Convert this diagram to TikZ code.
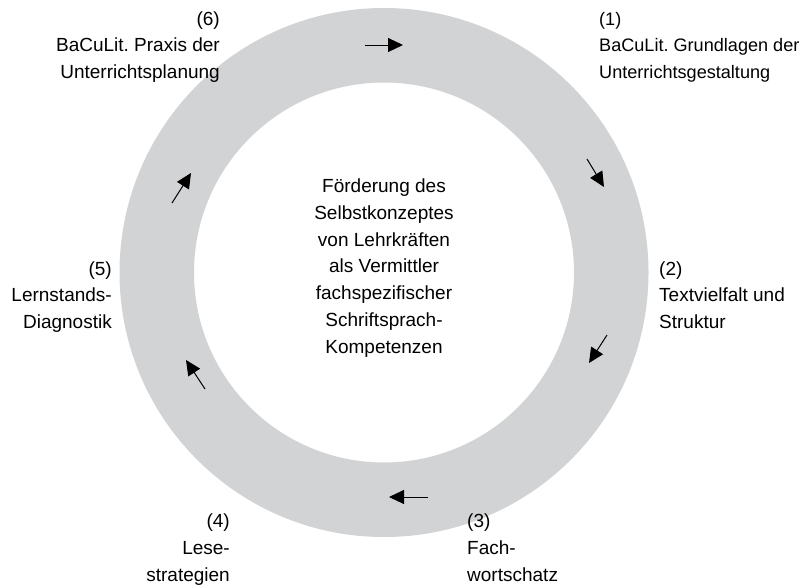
\documentclass[tikz,border=0pt]{standalone}
\usepackage{fontspec}
\setmainfont{Liberation Sans}
\usetikzlibrary{arrows.meta}
\definecolor{ringgray}{RGB}{209,211,212}
\begin{document}
\frenchspacing
\begin{tikzpicture}[x=1pt,y=-1pt,
  lbl/.style={inner sep=0pt,font=\fontsize{19}{26.7}\selectfont},
  cyclearrow/.style={line width=1pt,-{Triangle[length=15pt,width=14pt]}}]
\useasboundingbox (0,0) rectangle (802,584);
% ring
\fill[ringgray,even odd rule] (384,272.5) circle[radius=264.5] (384,272.5) circle[radius=190];
% labels (base anchor = baseline of last line)
\node[lbl,anchor=base east,align=right] (l6) at (220,78.4) {(6)\\BaCuLit. Praxis der\\Unterrichtsplanung};
\node[lbl,anchor=base west,align=left,font=\fontsize{18.1}{26.7}\selectfont] (l1) at (599,78.4) {(1)\\BaCuLit. Grundlagen der\\Unterrichtsgestaltung};
\node[lbl,anchor=base west,align=left] (l2) at (659,328.4) {(2)\\Textvielfalt und\\Struktur};
\node[lbl,anchor=base east,align=right] (l5) at (112,328.4) {(5)\\Lernstands-\\Diagnostik};
\node[lbl,anchor=base east,align=right] (l4) at (230,581) {(4)\\Lese-\\strategien};
\node[lbl,anchor=base west,align=left] (l3) at (467,581) {(3)\\Fach-\\wortschatz};
\node[lbl,anchor=base,align=center] (mid) at (384,353) {Förderung des\\Selbstkonzeptes\\von Lehrkräften\\als Vermittler\\fachspezifischer\\Schriftsprach-\\Kompetenzen};
% arrows
\coordinate (a1s) at (365,45);  \coordinate (a1e) at (403,45);
\coordinate (a2s) at (587,159); \coordinate (a2e) at (604,187);
\coordinate (a3s) at (607,335); \coordinate (a3e) at (589,363);
\coordinate (a4s) at (428,497); \coordinate (a4e) at (389,497);
\coordinate (a5s) at (205,389); \coordinate (a5e) at (186,360);
\coordinate (a6s) at (172,203); \coordinate (a6e) at (191,173);
\draw[cyclearrow] (a1s) -- (a1e);
\draw[cyclearrow] (a2s) -- (a2e);
\draw[cyclearrow] (a3s) -- (a3e);
\draw[cyclearrow] (a4s) -- (a4e);
\draw[cyclearrow] (a5s) -- (a5e);
\draw[cyclearrow] (a6s) -- (a6e);
\end{tikzpicture}
\end{document}
